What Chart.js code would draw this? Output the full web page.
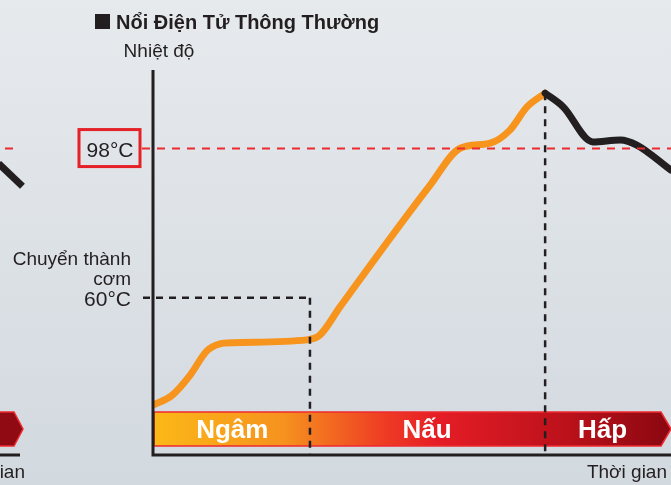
<!DOCTYPE html>
<html>
<head>
<meta charset="utf-8">
<script src="https://cdn.jsdelivr.net/npm/chart.js@4"></script>
<style>
  html, body { margin: 0; padding: 0; }
  #wrap { width: 671px; height: 485px; position: relative; }
</style>
</head>
<body>
<div id="wrap"><canvas id="chart"></canvas></div>
<script>
// thời gian (đơn vị tùy ý 0..100) và nhiệt độ (°C)
const cookTime = [0, 3.7, 7.1, 10.4, 12.9, 15.4, 29.7, 32.2, 36.1, 53.5, 59.3, 65.1, 68.9, 72.2, 75.7];
const cookTemp = [32.7, 35.2, 40.2, 46.5, 48.3, 48.6, 49.3, 50.5, 57.7, 88.7, 98.1, 99.4, 102.7, 108.6, 112.1];
const keepTime = [75.7, 79.2, 84.9, 90.2, 93.4, 100];
const keepTemp = [112.1, 108.6, 99.7, 100.2, 98.9, 92.5];
// mảnh biểu đồ bên trái (bị cắt)
const prevTime = [-29.8, -25.2];
const prevTemp = [94.2, 88.4];

const refTemps = [60, 98];          // 60°C chuyển thành cơm, 98°C
const phaseEdges = [0, 30.3, 75.7, 100];
const phaseNames = ['Ngâm', 'Nấu', 'Hấp'];
const phaseCenters = [15.3, 52.9, 86.8];

const FONT = '"Liberation Sans", Arial, sans-serif';

const toPts = (xs, ys) => xs.map((x, i) => ({ x: x, y: ys[i] }));

const decor = {
  id: 'decor',
  beforeDraw(chart) {
    const c = chart.ctx, w = chart.width, h = chart.height;
    const g = c.createLinearGradient(0, 0, 0, h);
    g.addColorStop(0, '#e7eaed');
    g.addColorStop(1, '#d2d9df');
    c.save();
    c.fillStyle = g;
    c.fillRect(0, 0, w, h);
    c.restore();
  },
  beforeDatasetsDraw(chart) {
    const c = chart.ctx;
    const xs = chart.scales.x;
    c.save();
    // thanh giai đoạn
    const top = 412, bot = 446, mid = (top + bot) / 2;
    const x0 = xs.getPixelForValue(phaseEdges[0]) + 1;
    const x1 = xs.getPixelForValue(phaseEdges[3]);
    const g = c.createLinearGradient(x0, 0, x1, 0);
    g.addColorStop(0, '#fbb817');
    g.addColorStop(0.25, '#f6921e');
    g.addColorStop(0.45, '#ee3a24');
    g.addColorStop(0.55, '#e51d26');
    g.addColorStop(0.8, '#bb111b');
    g.addColorStop(1, '#8a0710');
    c.beginPath();
    c.moveTo(x0, top);
    c.lineTo(x1 - 10, top);
    c.lineTo(x1, mid);
    c.lineTo(x1 - 10, bot);
    c.lineTo(x0, bot);
    c.closePath();
    c.fillStyle = g;
    c.fill();
    c.strokeStyle = '#ee2a2f';
    c.lineWidth = 1.5;
    c.stroke();
    // mũi tên của biểu đồ bên trái
    c.beginPath();
    c.moveTo(-5, top);
    c.lineTo(14, top);
    c.lineTo(23, mid);
    c.lineTo(14, bot);
    c.lineTo(-5, bot);
    c.closePath();
    c.fillStyle = '#8f0a12';
    c.fill();
    c.stroke();
    c.restore();
  },
  afterDatasetsDraw(chart) {
    const c = chart.ctx, a = chart.chartArea;
    const xs = chart.scales.x, ys = chart.scales.y;
    const y60 = ys.getPixelForValue(refTemps[0]);
    const y98 = ys.getPixelForValue(refTemps[1]);
    const xSoak = xs.getPixelForValue(phaseEdges[1]);
    const xPeak = xs.getPixelForValue(phaseEdges[2]);
    const yPeak = ys.getPixelForValue(keepTemp[0]);
    c.save();
    // đường nét đứt màu đen
    c.strokeStyle = '#231f20';
    c.lineWidth = 2.5;
    c.setLineDash([7, 6]);
    c.beginPath();
    c.moveTo(a.left - 10, y60); c.lineTo(xSoak, y60);
    c.moveTo(xSoak, y60); c.lineTo(xSoak, a.bottom);
    c.moveTo(xPeak, yPeak); c.lineTo(xPeak, a.bottom);
    c.stroke();
    // đường 98°C màu đỏ
    c.strokeStyle = '#ec2a30';
    c.lineWidth = 2;
    c.setLineDash([8, 7]);
    c.beginPath();
    c.moveTo(a.left - 11, y98); c.lineTo(a.right, y98);
    c.moveTo(5, y98); c.lineTo(13, y98);
    c.stroke();
    c.setLineDash([]);
    // trục
    c.strokeStyle = '#231f20';
    c.lineWidth = 3;
    c.beginPath();
    c.moveTo(a.left, a.top); c.lineTo(a.left, a.bottom);
    c.lineTo(a.right, a.bottom);
    c.moveTo(0, a.bottom); c.lineTo(20, a.bottom);
    c.stroke();
    // khung 98°C
    c.strokeStyle = '#e42127';
    c.lineWidth = 3;
    c.strokeRect(79, y98 - 19, 61, 37);
    // chữ
    c.fillStyle = '#231f20';
    c.textBaseline = 'alphabetic';
    c.font = '21px ' + FONT;
    c.textAlign = 'center';
    c.fillText(refTemps[1] + '°C', 110, y98 + 8);
    c.textAlign = 'right';
    c.fillText(refTemps[0] + '°C', 131, y60 + 8);
    c.font = '19px ' + FONT;
    c.fillText('Chuyển thành', 131, 265);
    c.fillText('cơm', 131, 285);
    c.fillText('Thời gian', a.right - 4, 478);
    c.fillText('Thời gian', 25, 478);
    c.textAlign = 'center';
    c.fillText('Nhiệt độ', a.left + 6, 57);
    // tiêu đề
    c.fillRect(95, 14, 15, 15);
    c.textAlign = 'left';
    c.font = 'bold 20px ' + FONT;
    c.fillText('Nổi Điện Tử Thông Thường', 116, 29);
    // nhãn giai đoạn
    c.fillStyle = '#ffffff';
    c.font = 'bold 26px ' + FONT;
    c.textAlign = 'center';
    phaseNames.forEach((n, i) => {
      c.fillText(n, xs.getPixelForValue(phaseCenters[i]), 438);
    });
    c.restore();
  }
};

new Chart(document.getElementById('chart'), {
  type: 'line',
  data: {
    datasets: [
      {
        label: 'keep',
        data: toPts(keepTime, keepTemp),
        borderColor: '#231f20',
        borderWidth: 7,
        cubicInterpolationMode: 'monotone',
        borderCapStyle: 'round',
        borderJoinStyle: 'round',
        pointRadius: 0,
        order: 0
      },
      {
        label: 'cook',
        data: toPts(cookTime, cookTemp),
        borderColor: '#f7941d',
        borderWidth: 7,
        cubicInterpolationMode: 'monotone',
        borderCapStyle: 'round',
        borderJoinStyle: 'round',
        pointRadius: 0,
        order: 1
      },
      {
        label: 'prev',
        data: toPts(prevTime, prevTemp),
        borderColor: '#231f20',
        borderWidth: 7,
        pointRadius: 0,
        clip: false,
        order: 2
      }
    ]
  },
  options: {
    responsive: true,
    maintainAspectRatio: false,
    animation: false,
    layout: { padding: { left: 153, right: 0, top: 70, bottom: 30 } },
    scales: {
      x: { type: 'linear', min: 0, max: 100, display: false },
      y: { min: 20, max: 118, display: false }
    },
    plugins: {
      legend: { display: false },
      tooltip: { enabled: false }
    }
  },
  plugins: [decor]
});
</script>
</body>
</html>
